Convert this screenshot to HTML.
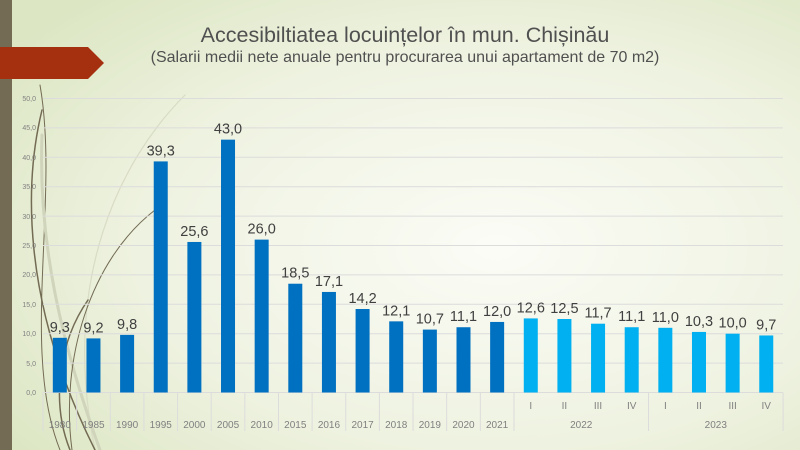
<!DOCTYPE html>
<html><head><meta charset="utf-8"><style>
body{margin:0;width:800px;height:450px;overflow:hidden;}
svg{display:block;font-family:"Liberation Sans",sans-serif;}
</style></head><body>
<svg width="800" height="450" viewBox="0 0 800 450">
<defs>
<radialGradient id="bg" cx="0.62" cy="0.55" r="0.75">
<stop offset="0" stop-color="#fbfcf6"/><stop offset="0.6" stop-color="#eef2e0"/><stop offset="1" stop-color="#dce6c3"/>
</radialGradient>
</defs>
<rect width="800" height="450" fill="url(#bg)"/>
<g fill="none" stroke-linecap="round">
<path d="M185 95 C120 160 60 280 95 450" stroke="#d8dcc4" stroke-width="1.2"/>
<path d="M42 110 C25 180 20 300 95 450" stroke="#736b53" stroke-width="1.5"/>
<path d="M40 85 C60 200 20 350 60 450" stroke="#736b53" stroke-width="1"/>
<path d="M42 135 C38 240 60 340 100 450" stroke="#cfd4bb" stroke-width="3"/>
<path d="M155 210 C90 260 60 360 72 450" stroke="#736b53" stroke-width="1"/>
<path d="M88 300 C60 340 50 400 70 450" stroke="#736b53" stroke-width="1.5"/>
</g>
<rect x="0" y="0" width="12" height="450" fill="#736b53"/>
<polygon points="0,47 88,47 104,63 88,79 0,79" fill="#a5300f"/>
<text x="405" y="42" text-anchor="middle" font-size="21.5" fill="#505050">Accesibiltiatea locuințelor în mun. Chișinău</text>
<text x="405" y="62" text-anchor="middle" font-size="16" fill="#505050">(Salarii medii nete anuale pentru procurarea unui apartament de 70 m2)</text>
<g stroke="#dcdcdc" stroke-width="1">
<line x1="43" x2="783" y1="98.5" y2="98.5"/><line x1="43" x2="783" y1="127.9" y2="127.9"/>
<line x1="43" x2="783" y1="157.3" y2="157.3"/><line x1="43" x2="783" y1="186.7" y2="186.7"/>
<line x1="43" x2="783" y1="216.1" y2="216.1"/><line x1="43" x2="783" y1="245.5" y2="245.5"/>
<line x1="43" x2="783" y1="274.9" y2="274.9"/><line x1="43" x2="783" y1="304.3" y2="304.3"/>
<line x1="43" x2="783" y1="333.7" y2="333.7"/><line x1="43" x2="783" y1="363.1" y2="363.1"/>
<line x1="43" x2="783" y1="392.5" y2="392.5"/>
</g>
<g font-size="7" fill="#808080" text-anchor="end">
<text x="36" y="101">50,0</text><text x="36" y="130">45,0</text><text x="36" y="160">40,0</text>
<text x="36" y="189">35,0</text><text x="36" y="219">30,0</text><text x="36" y="248">25,0</text>
<text x="36" y="277">20,0</text><text x="36" y="307">15,0</text><text x="36" y="336">10,0</text>
<text x="36" y="366">5,0</text><text x="36" y="395">0,0</text>
</g>
<g id="bars"></g>
<g id="seps" stroke="#dcdcdc" stroke-width="1"></g>
<g id="labs" font-size="10" fill="#808080" text-anchor="middle"></g>
<g id="vals" font-size="14.5" fill="#404040" text-anchor="middle"></g>
</svg>
<script>
var v=[9.3,9.2,9.8,39.3,25.6,43.0,26.0,18.5,17.1,14.2,12.1,10.7,11.1,12.0,12.6,12.5,11.7,11.1,11.0,10.3,10.0,9.7];
var yr=["1980","1985","1990","1995","2000","2005","2010","2015","2016","2017","2018","2019","2020","2021"];
var q=["I","II","III","IV","I","II","III","IV"];
var ns="http://www.w3.org/2000/svg",w=33.64,x0=43,y0=392.5,k=5.88;
function el(p,t,a,txt){var e=document.createElementNS(ns,t);for(var i in a)e.setAttribute(i,a[i]);if(txt)e.textContent=txt;document.getElementById(p).appendChild(e);}
for(var i=0;i<22;i++){var c=x0+w*(i+0.5),h=v[i]*k;
el("bars","rect",{x:c-7,y:y0-h,width:14,height:h,fill:i<14?"#0070c0":"#00b0f0"});
el("vals","text",{x:c,y:y0-h-6},v[i].toFixed(1).replace(".",","));
if(i<14)el("labs","text",{x:c,y:428},yr[i]);else el("labs","text",{x:c,y:409},q[i-14]);}
for(var i=0;i<=22;i++){if(i>14&&i<22&&i!=18)continue;var x=x0+w*i;el("seps","line",{x1:x,x2:x,y1:392.5,y2:431});}
el("labs","text",{x:x0+w*16,y:428},"2022");el("labs","text",{x:x0+w*20,y:428},"2023");
</script>
</body></html>
